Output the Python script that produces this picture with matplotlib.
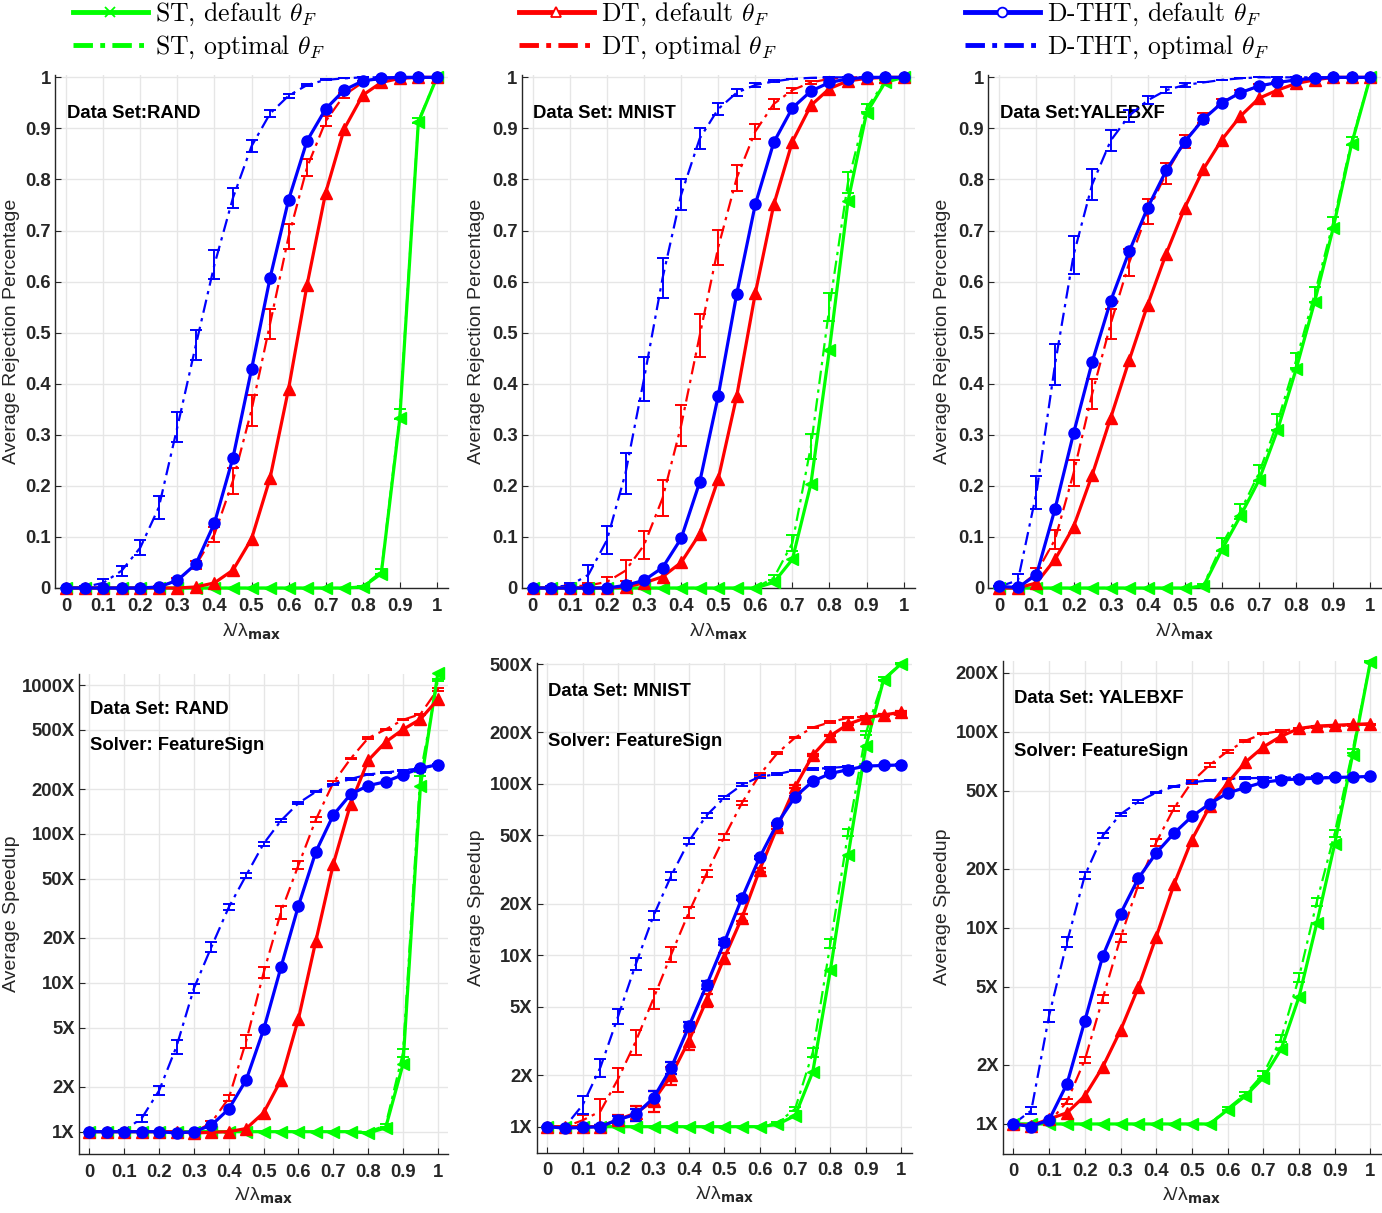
import numpy as np
import matplotlib
matplotlib.use("Agg")
import matplotlib.pyplot as plt
from matplotlib.lines import Line2D
from matplotlib.font_manager import FontProperties

plt.rcParams['font.family'] = ['Liberation Sans', 'DejaVu Sans']
plt.rcParams['font.weight'] = 'bold'

# lambda / lambda_max grid
LAM = [0.0, 0.05, 0.1, 0.15, 0.2, 0.25, 0.3, 0.35, 0.4, 0.45, 0.5,
       0.55, 0.6, 0.65, 0.7, 0.75, 0.8, 0.85, 0.9, 0.95, 1.0]

# ---------------- rejection percentage (top row) ----------------
REJ_RAND_ST = [0, 0, 0, 0, 0, 0, 0, 0, 0, 0, 0, 0, 0, 0, 0, 0, 0.002, 0.028, 0.332, 0.912, 1.0]
REJ_RAND_ST_OPT = [0, 0, 0, 0, 0, 0, 0, 0, 0, 0, 0, 0, 0, 0, 0, 0, 0.003, 0.032, 0.34, 0.915, 1.0]
REJ_RAND_ST_OPT_ERR = [0, 0, 0, 0, 0, 0, 0, 0, 0, 0, 0, 0, 0, 0, 0, 0, 0, 0.005, 0.01, 0.005, 0]
REJ_RAND_DT = [0, 0, 0, 0, 0, 0, 0, 0.002, 0.01, 0.035, 0.096, 0.215, 0.39, 0.594, 0.774, 0.899, 0.965, 0.99, 0.998, 1.0, 1.0]
REJ_RAND_DT_OPT = [0, 0, 0, 0, 0, 0.002, 0.015, 0.045, 0.105, 0.21, 0.348, 0.517, 0.688, 0.824, 0.914, 0.965, 0.99, 0.998, 1.0, 1.0, 1.0]
REJ_RAND_DT_OPT_ERR = [0, 0, 0, 0, 0, 0.002, 0.004, 0.008, 0.015, 0.025, 0.03, 0.03, 0.025, 0.017, 0.01, 0.005, 0.003, 0, 0, 0, 0]
REJ_RAND_DTHT = [0, 0, 0, 0, 0, 0.002, 0.015, 0.047, 0.127, 0.255, 0.428, 0.607, 0.76, 0.876, 0.938, 0.975, 0.993, 0.998, 1.0, 1.0, 1.0]
REJ_RAND_DTHT_OPT = [0, 0.002, 0.01, 0.034, 0.079, 0.158, 0.315, 0.476, 0.633, 0.764, 0.865, 0.929, 0.964, 0.985, 0.995, 0.998, 1.0, 1.0, 1.0, 1.0, 1.0]
REJ_RAND_DTHT_OPT_ERR = [0, 0.002, 0.008, 0.01, 0.015, 0.022, 0.03, 0.03, 0.028, 0.02, 0.012, 0.007, 0.004, 0.002, 0.001, 0, 0, 0, 0, 0, 0]

REJ_MNIST_ST = [0, 0, 0, 0, 0, 0, 0, 0, 0, 0, 0, 0, 0, 0.011, 0.056, 0.204, 0.467, 0.757, 0.93, 0.99, 1.0]
REJ_MNIST_ST_OPT = [0, 0, 0, 0, 0, 0, 0, 0, 0, 0, 0, 0, 0, 0.02, 0.088, 0.277, 0.55, 0.794, 0.94, 0.992, 1.0]
REJ_MNIST_ST_OPT_ERR = [0, 0, 0, 0, 0, 0, 0, 0, 0, 0, 0, 0, 0, 0.005, 0.015, 0.025, 0.028, 0.02, 0.008, 0.003, 0]
REJ_MNIST_DT = [0, 0, 0, 0, 0, 0.002, 0.01, 0.022, 0.05, 0.106, 0.213, 0.376, 0.577, 0.751, 0.874, 0.945, 0.978, 0.993, 0.998, 1.0, 1.0]
REJ_MNIST_DT_OPT = [0, 0, 0.003, 0.005, 0.012, 0.034, 0.084, 0.176, 0.318, 0.494, 0.667, 0.803, 0.894, 0.948, 0.975, 0.99, 0.997, 1.0, 1.0, 1.0, 1.0]
REJ_MNIST_DT_OPT_ERR = [0, 0, 0.003, 0.005, 0.01, 0.02, 0.027, 0.035, 0.04, 0.042, 0.035, 0.025, 0.015, 0.01, 0.005, 0.003, 0, 0, 0, 0, 0]
REJ_MNIST_DTHT = [0, 0, 0, 0, 0, 0.005, 0.015, 0.04, 0.097, 0.207, 0.376, 0.576, 0.751, 0.873, 0.94, 0.973, 0.99, 0.997, 1.0, 1.0, 1.0]
REJ_MNIST_DTHT_OPT = [0, 0.002, 0.005, 0.026, 0.094, 0.225, 0.41, 0.607, 0.77, 0.88, 0.938, 0.97, 0.985, 0.992, 0.997, 0.999, 1.0, 1.0, 1.0, 1.0, 1.0]
REJ_MNIST_DTHT_OPT_ERR = [0, 0.002, 0.005, 0.02, 0.027, 0.04, 0.043, 0.04, 0.03, 0.02, 0.012, 0.007, 0.003, 0.002, 0, 0, 0, 0, 0, 0, 0]

REJ_YALE_ST = [0, 0, 0, 0, 0, 0, 0, 0, 0, 0, 0, 0.003, 0.075, 0.141, 0.211, 0.309, 0.428, 0.56, 0.704, 0.87, 1.0]
REJ_YALE_ST_OPT = [0, 0, 0, 0, 0, 0, 0, 0, 0, 0, 0, 0.005, 0.085, 0.15, 0.225, 0.325, 0.445, 0.575, 0.715, 0.875, 1.0]
REJ_YALE_ST_OPT_ERR = [0, 0, 0, 0, 0, 0, 0, 0, 0, 0, 0, 0.003, 0.012, 0.015, 0.015, 0.015, 0.015, 0.015, 0.012, 0.008, 0]
REJ_YALE_DT = [0, 0, 0.01, 0.056, 0.12, 0.221, 0.333, 0.446, 0.555, 0.655, 0.745, 0.82, 0.878, 0.924, 0.959, 0.975, 0.988, 0.995, 1.0, 1.0, 1.0]
REJ_YALE_DT_OPT = [0.003, 0, 0.03, 0.095, 0.225, 0.38, 0.517, 0.637, 0.737, 0.812, 0.875, 0.92, 0.95, 0.97, 0.983, 0.99, 0.995, 1.0, 1.0, 1.0, 1.0]
REJ_YALE_DT_OPT_ERR = [0, 0, 0.01, 0.018, 0.025, 0.03, 0.03, 0.027, 0.025, 0.02, 0.013, 0.01, 0.007, 0.005, 0.003, 0, 0, 0, 0, 0, 0]
REJ_YALE_DTHT = [0.003, 0.001, 0.026, 0.155, 0.303, 0.442, 0.562, 0.659, 0.745, 0.818, 0.874, 0.918, 0.95, 0.97, 0.983, 0.99, 0.995, 0.998, 1.0, 1.0, 1.0]
REJ_YALE_DTHT_OPT = [0.003, 0.015, 0.187, 0.438, 0.652, 0.79, 0.876, 0.925, 0.955, 0.975, 0.985, 0.99, 0.995, 0.998, 1.0, 1.0, 1.0, 1.0, 1.0, 1.0, 1.0]
REJ_YALE_DTHT_OPT_ERR = [0, 0.012, 0.033, 0.04, 0.037, 0.03, 0.02, 0.012, 0.008, 0.006, 0.003, 0, 0, 0, 0, 0, 0, 0, 0, 0, 0]

# ---------------- speedup (bottom row), errors relative ----------------
SPD_RAND_ST = [1, 1, 1, 1, 1, 1, 1, 1, 1, 1, 1, 1, 1, 1, 1, 1, 0.98, 1.06, 2.84, 209, 1200]
SPD_RAND_ST_OPT = [1, 1, 1, 1, 1, 1, 1, 1, 1, 1, 1, 1, 1, 1, 1, 1, 1.0, 1.1, 3.4, 254, 1080]
SPD_RAND_ST_OPT_ERR = [0, 0, 0, 0, 0, 0, 0, 0, 0, 0, 0, 0, 0, 0, 0, 0, 0, 0.02, 0.06, 0.03, 0.02]
SPD_RAND_DT = [1, 1, 1, 1, 1, 1, 0.98, 0.99, 1.0, 1.05, 1.34, 2.23, 5.74, 19.2, 62.8, 160, 312, 414, 503, 590, 801]
SPD_RAND_DT_OPT = [1, 1, 1, 1, 1, 0.99, 0.99, 1.15, 1.68, 4.07, 11.7, 30, 61.8, 125, 221, 321, 440, 503, 584, 637, 937]
SPD_RAND_DT_OPT_ERR = [0, 0, 0, 0, 0, 0, 0.01, 0.03, 0.05, 0.1, 0.085, 0.1, 0.065, 0.04, 0.02, 0.01, 0.01, 0.01, 0.01, 0.01, 0.02]
SPD_RAND_DTHT = [1, 1, 1, 1, 1, 0.98, 1.0, 1.105, 1.42, 2.23, 4.86, 12.8, 33, 76, 134, 185, 211, 224, 250, 276, 292]
SPD_RAND_DTHT_OPT = [1, 1, 1.02, 1.23, 1.89, 3.74, 9.2, 17.4, 32.2, 52.8, 86, 123, 161, 192, 215, 234, 251, 258, 268, 275, 290]
SPD_RAND_DTHT_OPT_ERR = [0, 0, 0.01, 0.05, 0.07, 0.11, 0.07, 0.08, 0.05, 0.04, 0.03, 0.02, 0.015, 0.01, 0.01, 0.01, 0.01, 0.01, 0.01, 0.01, 0.01]

SPD_MNIST_ST = [1, 1, 1, 1, 1, 1, 1, 1, 1, 1, 1, 1, 1, 1.03, 1.16, 2.09, 8.25, 38.5, 166, 404, 503]
SPD_MNIST_ST_OPT = [1, 1, 1, 1, 1, 1, 1, 1, 1, 1, 1, 1, 1, 1.05, 1.27, 2.72, 11.8, 52, 198, 410, 503]
SPD_MNIST_ST_OPT_ERR = [0, 0, 0, 0, 0, 0, 0, 0, 0, 0, 0, 0, 0, 0.01, 0.03, 0.06, 0.06, 0.05, 0.03, 0.02, 0.01]
SPD_MNIST_DT = [1.0, 1.0, 1.0, 1.0, 1.1, 1.2, 1.42, 1.99, 3.18, 5.47, 9.67, 16.6, 31.5, 56, 96, 147, 191, 223, 243, 252, 262]
SPD_MNIST_DT_ERR = [0, 0, 0.02, 0.02, 0.06, 0.1, 0.14, 0.12, 0.12, 0.09, 0.07, 0.05, 0.03, 0.02, 0.02, 0.01, 0.01, 0.01, 0.01, 0.01, 0.01]
SPD_MNIST_DT_OPT = [1, 1, 1.09, 1.23, 1.9, 3.15, 5.6, 10.1, 17.8, 30, 49, 77.5, 113, 151, 186, 213, 229, 243, 247, 250, 255]
SPD_MNIST_DT_OPT_ERR = [0, 0, 0.08, 0.18, 0.16, 0.17, 0.13, 0.1, 0.07, 0.05, 0.04, 0.03, 0.02, 0.01, 0.01, 0.01, 0.01, 0.01, 0.01, 0.01, 0.01]
SPD_MNIST_DTHT = [1.0, 0.98, 0.99, 1.0, 1.1, 1.18, 1.47, 2.21, 3.85, 6.7, 11.9, 21.6, 37.3, 58.9, 84, 103.5, 115, 121, 127, 128, 129]
SPD_MNIST_DTHT_ERR = [0, 0, 0.02, 0.02, 0.05, 0.08, 0.1, 0.08, 0.06, 0.05, 0.04, 0.03, 0.02, 0.01, 0.01, 0.01, 0.01, 0, 0, 0, 0]
SPD_MNIST_DTHT_OPT = [1, 1, 1.34, 2.22, 4.4, 8.87, 17, 29.1, 46.3, 65.5, 83, 98.6, 110, 114, 120, 122, 124, 126, 127, 128, 129]
SPD_MNIST_DTHT_OPT_ERR = [0, 0, 0.12, 0.12, 0.1, 0.08, 0.06, 0.05, 0.04, 0.03, 0.02, 0.02, 0.02, 0.01, 0.01, 0.01, 0.01, 0.01, 0.01, 0.01, 0.01]

SPD_YALE_ST = [1, 1, 1, 1, 1, 1, 1, 1, 1, 1, 1, 1, 1.18, 1.39, 1.72, 2.41, 4.44, 10.6, 26.8, 76, 228]
SPD_YALE_ST_OPT = [1, 1, 1, 1, 1, 1, 1, 1, 1, 1, 1, 1, 1.2, 1.42, 1.8, 2.73, 5.6, 13.6, 30.4, 80, 228]
SPD_YALE_ST_OPT_ERR = [0, 0, 0, 0, 0, 0, 0, 0, 0, 0, 0, 0, 0.02, 0.02, 0.03, 0.04, 0.05, 0.05, 0.04, 0.02, 0.01]
SPD_YALE_DT = [1.0, 0.98, 1.06, 1.14, 1.39, 1.95, 3.0, 4.98, 9.0, 16.7, 28.2, 41.7, 54.9, 70, 83.7, 95, 104, 107, 108, 109, 110]
SPD_YALE_DT_OPT = [1, 1, 1.02, 1.3, 2.12, 4.35, 8.9, 16.6, 27.3, 40.8, 55.6, 67.8, 79.6, 90, 98, 101, 104, 106, 107, 108, 109]
SPD_YALE_DT_OPT_ERR = [0, 0, 0.02, 0.03, 0.04, 0.05, 0.05, 0.04, 0.04, 0.03, 0.02, 0.02, 0.02, 0.01, 0.01, 0.01, 0.01, 0.01, 0.01, 0.01, 0.01]
SPD_YALE_DTHT = [1.0, 0.97, 1.05, 1.6, 3.35, 7.16, 11.8, 17.9, 24.1, 30.4, 37, 43, 48.7, 52, 55.3, 56.8, 57.5, 58, 58.5, 58.8, 59.2]
SPD_YALE_DTHT_OPT = [1, 1.17, 3.57, 8.45, 18.5, 29.5, 38, 44, 49, 52.6, 55.3, 56.5, 57.7, 58, 58.2, 58.4, 58.5, 58.6, 58.7, 58.8, 59]
SPD_YALE_DTHT_OPT_ERR = [0, 0.04, 0.07, 0.06, 0.04, 0.03, 0.02, 0.02, 0.01, 0.01, 0.01, 0.01, 0.01, 0.01, 0.01, 0.01, 0.01, 0.01, 0.01, 0.01, 0.01]

XTICKS = [0, 0.1, 0.2, 0.3, 0.4, 0.5, 0.6, 0.7, 0.8, 0.9, 1.0]
XTICKLABELS = ['0', '0.1', '0.2', '0.3', '0.4', '0.5', '0.6', '0.7', '0.8', '0.9', '1']
REJ_TICKLABELS = ['0', '0.1', '0.2', '0.3', '0.4', '0.5', '0.6', '0.7', '0.8', '0.9', '1']
SPD_TICKS = [1, 2, 5, 10, 20, 50, 100, 200, 500, 1000]
SPD_TICKLABELS = ['1X', '2X', '5X', '10X', '20X', '50X', '100X', '200X', '500X', '1000X']

GREEN, RED, BLUE = '#00ff00', '#ff0000', '#0000ff'
DARK = '#262626'
GRID = '#e6e6e6'
DASHDOT = (0, (6, 2.5, 1.5, 2.5))
FS = 13.3

W, H = 1382, 1213
fig = plt.figure(figsize=(W / 100, H / 100), dpi=100)


def axes_px(left, top, right, bottom):
    return fig.add_axes([left / W, 1 - bottom / H, (right - left) / W, (bottom - top) / H])


def style(ax):
    ax.set_axisbelow(True)
    ax.grid(True, color=GRID, lw=1.0)
    ax.grid(False, which='minor')
    for s in ['top', 'right']:
        ax.spines[s].set_visible(False)
    for s in ['left', 'bottom']:
        ax.spines[s].set_color(DARK)
        ax.spines[s].set_linewidth(1.0)
    ax.tick_params(which='major', direction='in', length=4, width=0.8, colors=DARK,
                   labelsize=FS)
    ax.tick_params(axis='x', pad=7)
    ax.tick_params(axis='y', pad=3)
    ax.tick_params(which='minor', length=0)
    ax.set_xlim(-0.03, 1.03)
    ax.set_xticks(XTICKS)
    ax.set_xticklabels(XTICKLABELS)
    ax.set_xlabel('λ/λ' + r'$_{\mathbf{max}}$', fontsize=14, color=DARK,
                  fontweight='normal', math_fontfamily='dejavusans')


def draw(ax, series, log):
    # series: list of (y, err, color, marker, optimal)
    for y, err, c, m, opt in series:
        y = np.array(y, dtype=float)
        yerr = None
        if err is not None:
            yerr = np.array(err) * (y if log else 1.0)
        if opt:
            cont = ax.errorbar(LAM, y, yerr=yerr, color=c, ls=DASHDOT, lw=1.6,
                               elinewidth=1.4, capsize=4, capthick=1.4, zorder=3)
        else:
            cont = ax.errorbar(LAM, y, yerr=yerr, color=c, ls='-', lw=2.3,
                               marker=m, ms=8, mec=c, mfc=c, elinewidth=1.6,
                               capsize=4, capthick=1.6, zorder=4)
        for art in [cont.lines[0]] + list(cont.lines[1]) + list(cont.lines[2]):
            art.set_clip_on(False)


rej_panels = [
    ((55, 75.3, 448, 588), 'Data Set:RAND',
     [REJ_RAND_ST, REJ_RAND_ST_OPT, REJ_RAND_ST_OPT_ERR, REJ_RAND_DT, REJ_RAND_DT_OPT,
      REJ_RAND_DT_OPT_ERR, REJ_RAND_DTHT, REJ_RAND_DTHT_OPT, REJ_RAND_DTHT_OPT_ERR]),
    ((521.7, 75.3, 914.7, 588), 'Data Set: MNIST',
     [REJ_MNIST_ST, REJ_MNIST_ST_OPT, REJ_MNIST_ST_OPT_ERR, REJ_MNIST_DT, REJ_MNIST_DT_OPT,
      REJ_MNIST_DT_OPT_ERR, REJ_MNIST_DTHT, REJ_MNIST_DTHT_OPT, REJ_MNIST_DTHT_OPT_ERR]),
    ((988.3, 75.3, 1381.3, 588), 'Data Set:YALEBXF',
     [REJ_YALE_ST, REJ_YALE_ST_OPT, REJ_YALE_ST_OPT_ERR, REJ_YALE_DT, REJ_YALE_DT_OPT,
      REJ_YALE_DT_OPT_ERR, REJ_YALE_DTHT, REJ_YALE_DTHT_OPT, REJ_YALE_DTHT_OPT_ERR]),
]
rej_ylab_x = [-0.09, -0.094, -0.096]

for i, (box, title, d) in enumerate(rej_panels):
    ax = axes_px(*box)
    style(ax)
    st, st_o, st_oe, dt, dt_o, dt_oe, th, th_o, th_oe = d
    draw(ax, [(st_o, st_oe, GREEN, None, True), (dt_o, dt_oe, RED, None, True),
              (th_o, th_oe, BLUE, None, True), (st, None, GREEN, '<', False),
              (dt, None, RED, '^', False), (th, None, BLUE, 'o', False)], log=False)
    ax.set_ylim(0, 1.004)
    ax.set_yticks(XTICKS)
    ax.set_yticklabels(REJ_TICKLABELS)
    ax.set_ylabel('Average Rejection Percentage', fontsize=14, color=DARK)
    ax.yaxis.set_label_coords(rej_ylab_x[i], 0.5)
    ax.xaxis.set_label_coords(0.5, -0.066)
    ax.text(0.03, 0.926, title, transform=ax.transAxes, fontsize=FS,
            fontweight='bold', color='black', va='center', ha='left')

spd_panels = [
    ((79, 674, 448.3, 1154), (0.708, 1186), ('Data Set: RAND', 0.925, 0.85),
     [SPD_RAND_ST, SPD_RAND_ST_OPT, SPD_RAND_ST_OPT_ERR, SPD_RAND_DT, None, SPD_RAND_DT_OPT,
      SPD_RAND_DT_OPT_ERR, SPD_RAND_DTHT, None, SPD_RAND_DTHT_OPT, SPD_RAND_DTHT_OPT_ERR]),
    ((536.7, 662.7, 911.9, 1152.7), (0.705, 509), ('Data Set: MNIST', 0.942, 0.84),
     [SPD_MNIST_ST, SPD_MNIST_ST_OPT, SPD_MNIST_ST_OPT_ERR, SPD_MNIST_DT, SPD_MNIST_DT_ERR,
      SPD_MNIST_DT_OPT, SPD_MNIST_DT_OPT_ERR, SPD_MNIST_DTHT, SPD_MNIST_DTHT_ERR,
      SPD_MNIST_DTHT_OPT, SPD_MNIST_DTHT_OPT_ERR]),
    ((1002.7, 660.7, 1381.1, 1153.6), (0.706, 230.5), ('Data Set: YALEBXF', 0.924, 0.815),
     [SPD_YALE_ST, SPD_YALE_ST_OPT, SPD_YALE_ST_OPT_ERR, SPD_YALE_DT, None, SPD_YALE_DT_OPT,
      SPD_YALE_DT_OPT_ERR, SPD_YALE_DTHT, None, SPD_YALE_DTHT_OPT, SPD_YALE_DTHT_OPT_ERR]),
]
spd_ylab_x = [-0.16, -0.138, -0.137]

for i, (box, ylim, (title, ty1, ty2), d) in enumerate(spd_panels):
    ax = axes_px(*box)
    ax.set_yscale('log')
    style(ax)
    st, st_o, st_oe, dt, dt_e, dt_o, dt_oe, th, th_e, th_o, th_oe = d
    draw(ax, [(st_o, st_oe, GREEN, None, True), (dt_o, dt_oe, RED, None, True),
              (th_o, th_oe, BLUE, None, True), (st, None, GREEN, '<', False),
              (dt, dt_e, RED, '^', False), (th, th_e, BLUE, 'o', False)], log=True)
    ax.set_ylim(*ylim)
    ax.set_yticks(SPD_TICKS)
    ax.set_yticklabels(SPD_TICKLABELS)
    ax.minorticks_off()
    ax.set_ylim(*ylim)
    ax.set_ylabel('Average Speedup', fontsize=14, color=DARK)
    ax.yaxis.set_label_coords(spd_ylab_x[i], 0.5)
    ax.xaxis.set_label_coords(0.5, -0.066)
    ax.text(0.03, ty1, title, transform=ax.transAxes, fontsize=FS,
            fontweight='bold', color='black', va='center', ha='left')
    ax.text(0.03, ty2, 'Solver: FeatureSign', transform=ax.transAxes, fontsize=FS,
            fontweight='bold', color='black', va='center', ha='left')

# legend: three columns across the top
LEG_NAMES = ['ST', 'DT', 'D-THT']
LEG_COLORS = [GREEN, RED, BLUE]
LEG_MARKERS = ['x', '^', 'o']
LEG_X = [73, 519, 965]
leg_font = FontProperties(family='cmr10', size=18.5, math_fontfamily='cm')
for name, c, m, lx in zip(LEG_NAMES, LEG_COLORS, LEG_MARKERS, LEG_X):
    h_def = Line2D([], [], color=c, lw=3.5, marker=m, ms=7, mfc='white' if m != 'x' else c,
                   mec=c, mew=1.3)
    h_opt = Line2D([], [], color=c, lw=3.5, ls=(0, (4, 1.5, 1, 1.5)))
    labels = [name + r', default $\theta_F$', name + r', optimal $\theta_F$']
    fig.legend([h_def, h_opt], labels, loc='upper left',
               bbox_to_anchor=(lx / W, 1 - 1 / H), frameon=False, prop=leg_font,
               handlelength=2.9, handletextpad=0.3, labelspacing=0.2,
               borderpad=0.0, borderaxespad=0.0)

fig.savefig('out.png', dpi=100)
